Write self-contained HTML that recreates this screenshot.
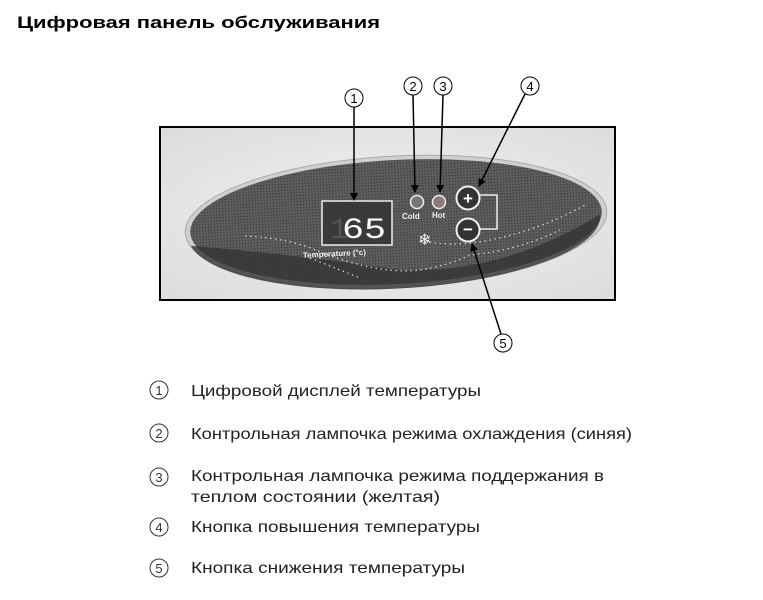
<!DOCTYPE html>
<html><head><meta charset="utf-8"><style>html,body{margin:0;padding:0;background:#fff}svg{display:block}</style></head>
<body>
<svg width="763" height="600" viewBox="0 0 763 600" xmlns="http://www.w3.org/2000/svg" font-family="Liberation Sans, sans-serif">
<defs>
<pattern id="dots" width="3" height="3" patternUnits="userSpaceOnUse"><rect width="3" height="3" fill="#5e5e5e"/><circle cx="1.5" cy="1.5" r="0.8" fill="#3a3a3a"/></pattern>
<marker id="ah" markerWidth="8" markerHeight="8" refX="7" refY="4" orient="auto" markerUnits="userSpaceOnUse"><path d="M0,0 L8,4 L0,8 z" fill="#000"/></marker>
<radialGradient id="bg" cx="0.5" cy="0.5" r="0.7"><stop offset="0" stop-color="#f2f2f2"/><stop offset="1" stop-color="#dcdcdc"/></radialGradient>
</defs>
<text x="17" y="28" font-size="17" font-weight="bold" textLength="363" lengthAdjust="spacingAndGlyphs">Цифровая панель обслуживания</text>
<rect x="160" y="127" width="455" height="173" fill="url(#bg)" stroke="#000" stroke-width="2"/>
<g transform="rotate(-3 396 222)">
<ellipse cx="396" cy="222" rx="211" ry="66" fill="#cfcfcf" stroke="#aaa"/>
<ellipse cx="396" cy="222" rx="206" ry="62" fill="url(#dots)"/>
<path d="M190,235 Q300,250 396,270 Q500,280 600,225 A206,62 0 0 1 190,235z" fill="#333" opacity="0.8"/>
</g>
<path d="M245,236 Q290,238 320,252 Q380,275 420,270 Q450,265 470,255 Q520,250 560,230" fill="none" stroke="#ddd" stroke-width="1.2" stroke-dasharray="1.5 3.5"/>
<path d="M310,258 Q340,270 360,278 M420,240 Q450,248 490,240 Q540,230 585,205" fill="none" stroke="#ddd" stroke-width="1.2" stroke-dasharray="1.5 3.5"/>
<rect x="322" y="201" width="70" height="44" fill="#3a3a3a" stroke="#eee" stroke-width="1.5"/>
<text x="342" y="238" font-size="30" fill="#fff" font-family="Liberation Mono, monospace" textLength="44" lengthAdjust="spacingAndGlyphs">65</text>
<text x="330" y="238" font-size="30" fill="#555" font-family="Liberation Mono, monospace">1</text>
<circle cx="417" cy="202" r="6.5" fill="#777" stroke="#eee" stroke-width="1.5"/>
<circle cx="439" cy="202" r="6.5" fill="#8a7a7a" stroke="#eee" stroke-width="1.5"/>
<text x="402" y="219" font-size="8" fill="#eee" font-weight="bold">Cold</text>
<text x="432" y="218" font-size="8" fill="#eee" font-weight="bold">Hot</text>
<text x="418" y="245" font-size="16" fill="#eee">❄</text>
<circle cx="468" cy="198" r="11.5" fill="#333" stroke="#eee" stroke-width="2"/>
<text x="468" y="204" font-size="17" fill="#fff" text-anchor="middle" font-weight="bold">+</text>
<circle cx="468" cy="230" r="11.5" fill="#333" stroke="#eee" stroke-width="2"/>
<text x="468" y="235" font-size="17" fill="#fff" text-anchor="middle" font-weight="bold">−</text>
<path d="M480,195 H497 V229 H480" fill="none" stroke="#eee" stroke-width="1.5"/>
<text x="303" y="258" font-size="8" fill="#eee" font-weight="bold" transform="rotate(-3 303 258)">Temperature (°c)</text>
<g fill="none" stroke="#000" stroke-width="1">
<circle cx="354" cy="98" r="9"/><circle cx="413" cy="86" r="9"/><circle cx="443" cy="86" r="9"/><circle cx="530" cy="86" r="9"/><circle cx="503" cy="343" r="9"/>
</g>
<g font-size="13" text-anchor="middle">
<text x="354" y="103">1</text><text x="413" y="91">2</text><text x="443" y="91">3</text><text x="530" y="91">4</text><text x="503" y="348">5</text>
</g>
<g stroke="#000" stroke-width="1.5" marker-end="url(#ah)">
<line x1="354" y1="107" x2="354" y2="200"/>
<line x1="413" y1="95" x2="415" y2="192"/>
<line x1="443" y1="95" x2="440" y2="192"/>
<line x1="525" y1="94" x2="479" y2="186"/>
<line x1="501" y1="334" x2="472" y2="244"/>
</g>
<g fill="none" stroke="#333" stroke-width="1">
<circle cx="159" cy="390" r="9"/><circle cx="159" cy="433" r="9"/><circle cx="159" cy="477" r="9"/><circle cx="159" cy="527" r="9"/><circle cx="159" cy="568" r="9"/>
</g>
<g font-size="13" text-anchor="middle" fill="#333">
<text x="159" y="395">1</text><text x="159" y="438">2</text><text x="159" y="482">3</text><text x="159" y="532">4</text><text x="159" y="573">5</text>
</g>
<g font-size="16" fill="#222">
<text x="191" y="396" textLength="290" lengthAdjust="spacingAndGlyphs">Цифровой дисплей температуры</text>
<text x="191" y="439" textLength="441" lengthAdjust="spacingAndGlyphs">Контрольная лампочка режима охлаждения (синяя)</text>
<text x="191" y="481" textLength="413" lengthAdjust="spacingAndGlyphs">Контрольная лампочка режима поддержания в</text>
<text x="191" y="502" textLength="249" lengthAdjust="spacingAndGlyphs">теплом состоянии (желтая)</text>
<text x="191" y="532" textLength="289" lengthAdjust="spacingAndGlyphs">Кнопка повышения температуры</text>
<text x="191" y="573" textLength="274" lengthAdjust="spacingAndGlyphs">Кнопка снижения температуры</text>
</g>
</svg>
</body></html>
